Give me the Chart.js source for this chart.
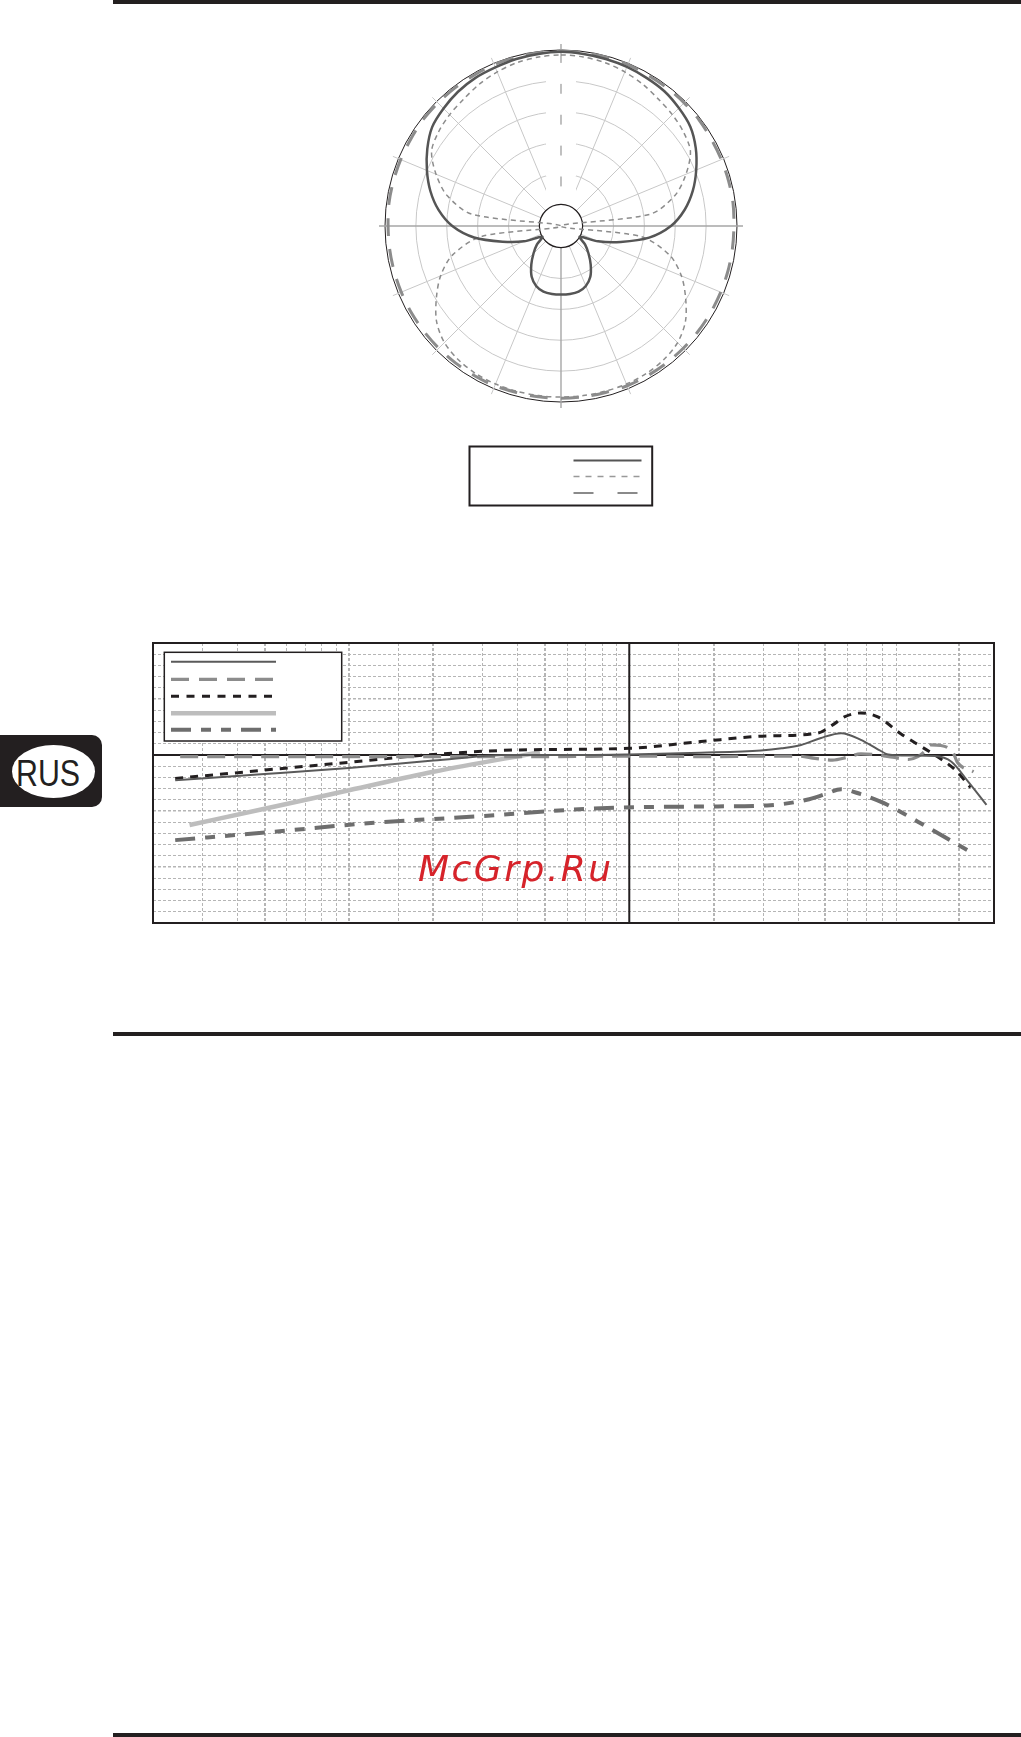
<!DOCTYPE html>
<html><head><meta charset="utf-8">
<script src="https://cdn.jsdelivr.net/npm/chart.js@4.4.1/dist/chart.umd.min.js"></script>
<style>
html,body{margin:0;padding:0;background:#fff;}
body{position:relative;width:1021px;height:1737px;overflow:hidden;}
.rule{position:absolute;left:113px;width:908px;height:4px;background:#231f20;}
#polar{position:absolute;left:375px;top:40px;width:373px;height:480px;}
#freq{position:absolute;left:143px;top:633px;width:861px;height:300px;}
#badge{position:absolute;left:0;top:735px;width:102px;height:72px;background:#231f20;border-radius:0 10px 10px 0;}
#ellipse{position:absolute;left:11.7px;top:10px;width:83.4px;height:53px;border-radius:50%;background:#fff;}
#rus{position:absolute;left:16px;top:20.4px;font-family:"Liberation Sans",Arial,sans-serif;font-size:37px;line-height:37px;color:#231f20;transform:scaleX(0.82);transform-origin:0 0;white-space:nowrap;}
#wm{position:absolute;left:418px;top:851px;font-family:"DejaVu Sans",sans-serif;font-style:italic;font-size:36px;line-height:36px;letter-spacing:2.5px;color:#d6232a;white-space:nowrap;}
</style></head>
<body>
<div class="rule" style="top:0"></div>
<div class="rule" style="top:1032px"></div>
<div class="rule" style="top:1733px"></div>
<canvas id="polar" width="373" height="480"></canvas>
<canvas id="freq" width="861" height="300"></canvas>
<div id="badge"><div id="ellipse"></div><div id="rus">RUS</div></div>
<div id="wm">McGrp.Ru</div>
<script>
// ---------- Polar pattern data (angle clockwise from front, dB) ----------
const polarAngles = ['0','7.5','15','22.5','30','37.5','45','52.5','60','67.5','75','82.5','90','97.5','105','112.5','120','127.5','135','142.5','150','157.5','165','172.5','180','187.5','195','202.5','210','217.5','225','232.5','240','247.5','255','262.5','270','277.5','285','292.5','300','307.5','315','322.5','330','337.5','345','352.5'];
const polarCardioid = [-0.3,-0.4,-0.5,-0.6,-0.8,-1.0,-1.5,-2.1,-3.3,-4.8,-6.4,-8.3,-10.7,-14.1,-18.5,-22.0,-25.0,-23.6,-22.2,-20.6,-19.0,-18.0,-17.5,-17.4,-17.4,-17.4,-17.5,-18.0,-19.0,-20.6,-22.2,-23.6,-25.0,-22.0,-18.7,-14.3,-10.9,-8.5,-6.6,-5.0,-3.5,-2.2,-1.6,-1.1,-0.8,-0.7,-0.5,-0.4];
const polarFigure8 = [-0.8,-0.9,-1.1,-1.5,-2.0,-2.6,-3.0,-3.5,-4.3,-6.6,-9.4,-14.0,-28.5,-15.5,-10.3,-7.4,-5.2,-3.1,-1.8,-1.2,-0.9,-0.8,-0.8,-0.8,-0.8,-0.8,-0.8,-0.8,-0.9,-1.2,-1.8,-3.1,-5.2,-7.4,-10.3,-15.5,-28.5,-14.0,-9.4,-6.6,-4.3,-3.5,-3.0,-2.6,-2.0,-1.5,-1.1,-0.9];
const polarOmni = [-0.2,-0.2,-0.2,-0.2,-0.3,-0.3,-0.3,-0.3,-0.4,-0.4,-0.4,-0.4,-0.5,-0.5,-0.5,-0.5,-0.5,-0.5,-0.5,-0.5,-0.5,-0.5,-0.6,-0.6,-0.6,-0.6,-0.6,-0.5,-0.5,-0.5,-0.5,-0.5,-0.5,-0.5,-0.5,-0.5,-0.5,-0.4,-0.4,-0.4,-0.4,-0.3,-0.3,-0.3,-0.3,-0.2,-0.2,-0.2];
const polarRings = [-25,-20,-15,-10,-5,0];

// ---------- Frequency response data (Hz, dB) ----------
const freqGridHz = [20,30,40,50,60,70,80,90,100,150,200,300,400,500,600,700,800,900,1000,1500,2000,3000,4000,5000,6000,7000,8000,9000,15000,20000];
const levelGridDb = [-15,-14,-13,-12,-11,-10,-9,-8,-7,-6,-5,-4,-3,-2,-1,0,1,2,3,4,5,6,7,8,9,10];
const s1Hz = [24,50,100,200,370,700,1000,1800,2950,3500,4100,4800,5700,6700,7600,8400,10000,12300,14100,16200,18800];
const s1Db = [-2.25,-1.7,-1.15,-0.5,0.0,0.0,0.05,0.2,0.4,0.6,0.9,1.5,1.95,1.35,0.6,0.05,-0.05,-0.1,-0.6,-2.4,-4.45];
const s2Hz = [25,100,500,1000,2000,3000,4000,4600,5300,6000,6700,7700,8700,9900,10700,11300,11900,12900,14300,14800,16900];
const s2Db = [-0.15,-0.15,-0.15,-0.1,-0.15,-0.1,-0.1,-0.3,-0.45,-0.2,0.1,0.0,-0.2,-0.4,-0.15,0.3,0.9,0.85,0.2,-0.65,-1.5];
const s3Hz = [24,50,100,200,400,1000,1800,3100,4700,5400,5850,6700,7700,9300,11000,12300,14500,16500];
const s3Db = [-2.1,-1.35,-0.65,0.05,0.45,0.6,1.2,1.7,1.95,2.8,3.4,3.75,3.4,1.9,0.75,0.0,-1.3,-2.9];
const s4Hz = [27,50,100,200,480];
const s4Db = [-6.25,-4.8,-3.15,-1.5,0.25];
const s5Hz = [24,54,123,280,790,1800,3100,4300,5000,5700,6700,8100,10700,16100];
const s5Db = [-7.6,-6.85,-6.05,-5.5,-4.75,-4.6,-4.5,-4.0,-3.5,-3.05,-3.5,-4.3,-5.95,-8.5];

const INK = '#231f20';

// ---------- Polar chart ----------
const polarLegendStyles = [
  {color:'#555555', width:2, dash:[]},
  {color:'#999999', width:1.5, dash:[6,6]},
  {color:'#8a8a8a', width:2.2, dash:[20,24]}
];
const polarDecor = {
  id:'polarDecor',
  beforeDatasetsDraw(chart){
    const s = chart.scales.r, ctx = chart.ctx;
    const rIn = s.getDistanceFromCenterForValue(-25);
    const rOut = s.drawingArea + 6;
    ctx.save();
    for (let i = 0; i < polarAngles.length; i += 3) {
      const k = i / 3;
      const p1 = s.getPointPosition(i, rIn), p2 = s.getPointPosition(i, rOut);
      ctx.strokeStyle = (k % 4 === 0) ? '#a6a6a6' : '#c8c8c8';
      ctx.lineWidth = (k % 4 === 0) ? 1.4 : 1;
      ctx.beginPath(); ctx.moveTo(p1.x, p1.y); ctx.lineTo(p2.x, p2.y); ctx.stroke();
    }
    // white label gaps along the front axis
    ctx.fillStyle = '#fff';
    [-5,-10,-15,-20,-25].forEach(v => {
      const r = s.getDistanceFromCenterForValue(v);
      ctx.fillRect(s.xCenter - 15, s.yCenter - r - 18, 30, 21);
    });
    // centre hole
    ctx.beginPath(); ctx.arc(s.xCenter, s.yCenter, rIn, 0, Math.PI * 2);
    ctx.fillStyle = '#fff'; ctx.fill();
    ctx.lineWidth = 1.2; ctx.strokeStyle = INK; ctx.stroke();
    ctx.restore();
  },
  afterDraw(chart){
    const s = chart.scales.r, ctx = chart.ctx;
    const cx = s.xCenter, cy = s.yCenter;
    ctx.save();
    ctx.lineWidth = 2; ctx.strokeStyle = INK;
    ctx.strokeRect(cx - 91.5, cy + 220.5, 182.7, 59);
    const ys = [234.5, 250.5, 267];
    polarLegendStyles.forEach((st, i) => {
      ctx.beginPath();
      ctx.strokeStyle = st.color; ctx.lineWidth = st.width; ctx.setLineDash(st.dash);
      ctx.moveTo(cx + 12.5, cy + ys[i]); ctx.lineTo(cx + 80.5, cy + ys[i]); ctx.stroke();
    });
    ctx.restore();
  }
};
new Chart(document.getElementById('polar'), {
  type: 'radar',
  data: { labels: polarAngles, datasets: [
    {label:'A', data: polarCardioid, borderColor:'#555555', borderWidth:2.5, fill:false, backgroundColor:'rgba(0,0,0,0)'},
    {label:'B', data: polarFigure8, borderColor:'#8c8c8c', borderWidth:1.5, borderDash:[5,4], fill:false, backgroundColor:'rgba(0,0,0,0)'},
    {label:'C', data: polarOmni, borderColor:'#8c8c8c', borderWidth:3, borderDash:[18,13], fill:false, backgroundColor:'rgba(0,0,0,0)'}
  ]},
  options: {
    responsive:false, animation:false, devicePixelRatio:1,
    layout:{padding:{left:10,right:10,top:10,bottom:117}},
    plugins:{legend:{display:false}, tooltip:{enabled:false}},
    elements:{point:{radius:0}, line:{tension:0.3, fill:false}},
    scales:{ r:{
      min:-28.5, max:0, startAngle:0,
      afterBuildTicks:(sc)=>{ sc.ticks = polarRings.map(v=>({value:v})); },
      ticks:{display:false}, pointLabels:{display:false}, angleLines:{display:false},
      grid:{circular:true, color:(c)=> (c.tick && c.tick.value === 0) ? INK : '#c8c8c8', lineWidth:1}
    }}
  },
  plugins:[polarDecor]
});

// ---------- Frequency response chart ----------
const heavyHz = [50,100,200,500,2000,5000,15000];
const heavyDb = [5,-5,-10];
const freqLegendStyles = [
  {dash:[]}, {dash:[18,10]}, {dash:[8,7.5]}, {dash:[]}, {dash:[20,10,10,10,10,10]}
];
const freqDecor = {
  id:'freqDecor',
  beforeDatasetsDraw(chart){
    const {ctx, chartArea:a, scales:{x, y}} = chart;
    ctx.save();
    ctx.strokeStyle = INK; ctx.lineWidth = 2;
    const px = x.getPixelForValue(1000), py = y.getPixelForValue(0);
    ctx.beginPath(); ctx.moveTo(px, a.top); ctx.lineTo(px, a.bottom); ctx.stroke();
    ctx.beginPath(); ctx.moveTo(a.left, py); ctx.lineTo(a.right, py); ctx.stroke();
    ctx.restore();
  },
  afterDatasetsDraw(chart){
    const {ctx, chartArea:a} = chart;
    ctx.save();
    ctx.strokeStyle = INK; ctx.lineWidth = 2;
    ctx.strokeRect(a.left, a.top, a.right - a.left, a.bottom - a.top);
    // legend box
    const bx = a.left + 11.3, by = a.top + 9.3;
    ctx.fillStyle = '#fff'; ctx.fillRect(bx, by, 177.4, 88.7);
    ctx.lineWidth = 1.5; ctx.strokeRect(bx, by, 177.4, 88.7);
    const ys = [18.7, 36.3, 53.3, 70.3, 86.7];
    chart.data.datasets.forEach((d, i) => {
      ctx.beginPath();
      ctx.strokeStyle = d.borderColor; ctx.lineWidth = d.borderWidth; ctx.setLineDash(freqLegendStyles[i].dash);
      ctx.moveTo(a.left + 18, a.top + ys[i]); ctx.lineTo(a.left + 123, a.top + ys[i]); ctx.stroke();
    });
    ctx.restore();
  }
};
const pts = (hz, db) => hz.map((f, i) => ({x:f, y:db[i]}));
const lineDs = (hz, db, color, width, dash) => ({
  data: pts(hz, db), borderColor: color, borderWidth: width, borderDash: dash,
  fill:false, pointRadius:0, cubicInterpolationMode:'monotone', borderCapStyle:'butt'
});
new Chart(document.getElementById('freq'), {
  type:'line',
  data:{ datasets:[
    lineDs(s1Hz, s1Db, '#5a5a5a', 2, []),
    lineDs(s2Hz, s2Db, '#8c8c8c', 3.2, [18,9]),
    lineDs(s3Hz, s3Db, INK, 3, [8,7]),
    lineDs(s4Hz, s4Db, '#bdbdbd', 4.5, []),
    lineDs(s5Hz, s5Db, '#6e6e6e', 4, [20,10,10,10,10,10])
  ]},
  options:{
    responsive:false, animation:false, devicePixelRatio:1,
    layout:{padding:10},
    plugins:{legend:{display:false}, tooltip:{enabled:false}},
    scales:{
      x:{type:'logarithmic', min:20, max:20000,
        afterBuildTicks:(sc)=>{ sc.ticks = freqGridHz.map(v=>({value:v})); },
        ticks:{display:false},
        grid:{drawTicks:false, color:'#b5b5b5', lineWidth:(c)=> (c.tick && heavyHz.includes(c.tick.value)) ? 2 : 1},
        border:{display:false, dash:[3,2]}},
      y:{type:'linear', min:-15, max:10,
        afterBuildTicks:(sc)=>{ sc.ticks = levelGridDb.map(v=>({value:v})); },
        ticks:{display:false},
        grid:{drawTicks:false, color:'#b5b5b5', lineWidth:(c)=> (c.tick && heavyDb.includes(c.tick.value)) ? 1.6 : 1},
        border:{display:false, dash:[3,2]}}
    }
  },
  plugins:[freqDecor]
});
</script>
</body></html>
